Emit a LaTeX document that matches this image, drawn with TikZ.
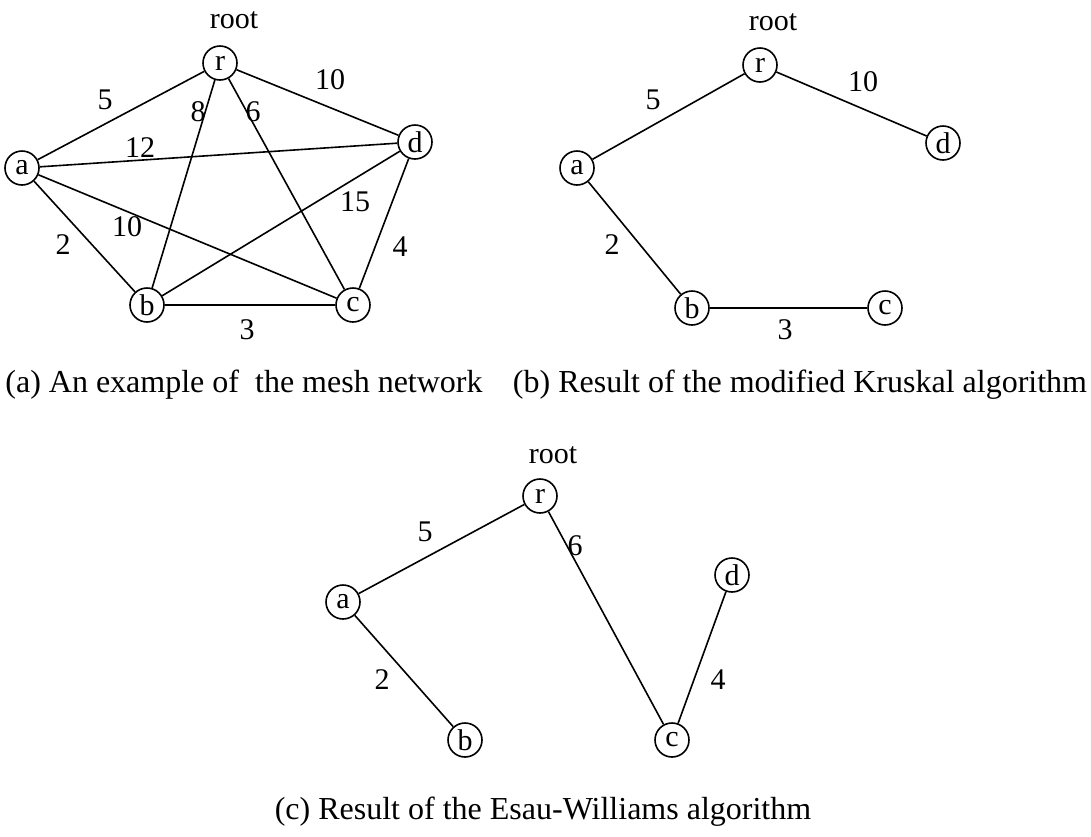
\documentclass[tikz,border=0pt]{standalone}
\usepackage{fontspec}
\setmainfont{Liberation Serif}
\usetikzlibrary{positioning}

\tikzset{
  vert/.style={circle, draw, line width=0.8pt, inner sep=0pt, minimum size=17pt,
    font=\fontsize{15}{17}\selectfont},
  wt/.style={font=\fontsize{15}{18}\selectfont, inner sep=0pt},
  captext/.style={font=\fontsize{16}{19}\selectfont, inner sep=0pt},
  link/.style={line width=0.8pt}
}

\begin{document}
\begin{tikzpicture}[x=0.5pt, y=-0.5pt]
  \useasboundingbox (0,0) rectangle (1091,836);

  % (a) the mesh network
  \node[vert] (r1) at (220,63) {r};
  \node[vert] (a1) at (22,168) {a};
  \node[vert] (d1) at (415,142) {d};
  \node[vert] (b1) at (147,305) {b};
  \node[vert] (c1) at (353,305) {c};
  \node[wt] (root1) at (234,20) {root};
  \foreach \u/\v in {r1/a1, r1/d1, r1/b1, r1/c1, a1/d1, a1/b1, a1/c1, d1/b1, d1/c1, b1/c1}
    \draw[link] (\u) -- (\v);
  \node[wt] at (105,100) {5};
  \node[wt] at (198,112) {8};
  \node[wt] at (253,112) {6};
  \node[wt] at (330,80) {10};
  \node[wt] at (140,148) {12};
  \node[wt] at (355,202) {15};
  \node[wt] at (127,227) {10};
  \node[wt] at (63,245) {2};
  \node[wt] at (400,247) {4};
  \node[wt] at (247,330) {3};
  \node[captext] (capa) at (244,385) {(a) An example of~~the mesh network};

  % (b) modified Kruskal
  \node[vert] (r2) at (760,65) {r};
  \node[vert] (a2) at (577,168) {a};
  \node[vert] (d2) at (943,143) {d};
  \node[vert] (b2) at (692,308) {b};
  \node[vert] (c2) at (885,308) {c};
  \node[wt] (root2) at (773,22) {root};
  \draw[link] (r2) -- (a2);
  \draw[link] (r2) -- (d2);
  \draw[link] (a2) -- (b2);
  \draw[link] (b2) -- (c2);
  \node[wt] at (653,100) {5};
  \node[wt] at (863,82) {10};
  \node[wt] at (612,245) {2};
  \node[wt] at (785,330) {3};
  \node[captext] (capb) at (800,385) {(b) Result of the modified Kruskal algorithm};

  % (c) Esau-Williams
  \node[vert] (r3) at (540,496) {r};
  \node[vert] (a3) at (343,602) {a};
  \node[vert] (d3) at (732,575) {d};
  \node[vert] (b3) at (465,740) {b};
  \node[vert] (c3) at (672,740) {c};
  \node[wt] (root3) at (553,455) {root};
  \draw[link] (r3) -- (a3);
  \draw[link] (r3) -- (c3);
  \draw[link] (a3) -- (b3);
  \draw[link] (c3) -- (d3);
  \node[wt] at (425,532) {5};
  \node[wt] at (575,546) {6};
  \node[wt] at (382,680) {2};
  \node[wt] at (718,680) {4};
  \node[captext] (capc) at (543,812) {(c) Result of the Esau-Williams algorithm};
\end{tikzpicture}
\end{document}
